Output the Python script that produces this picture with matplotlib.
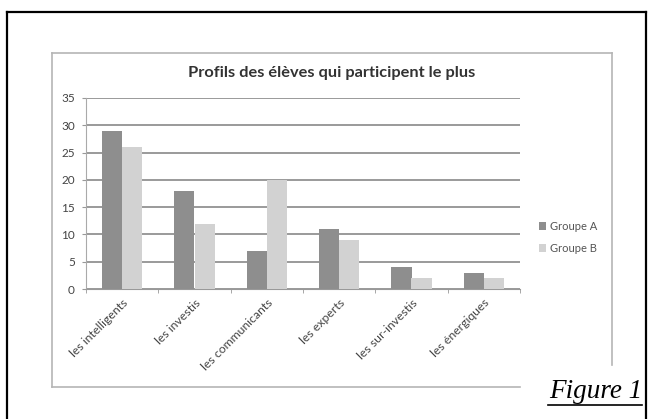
import matplotlib
matplotlib.use("Agg")
from matplotlib import pyplot as plt
from matplotlib.lines import Line2D
import numpy as np

# donnees du graphique
categories = ["les intelligents", "les investis", "les communicants",
              "les experts", "les sur-investis", "les énergiques"]
groupe_a = [29, 18, 7, 11, 4, 3]
groupe_b = [26, 12, 20, 9, 2, 2]
series_noms = ["Groupe A", "Groupe B"]
y_ticks = [0, 5, 10, 15, 20, 25, 30, 35]

W, H = 651, 419

def px(x, y):
    # pixels -> coordonnees figure
    return x / W, 1 - y / H

fig = plt.figure(figsize=(W / 100, H / 100), dpi=100)
fig.patch.set_facecolor("white")

# zone de trace
x0, x1, y0, y1 = 86, 520, 98, 289
ax = fig.add_axes([x0 / W, 1 - y1 / H, (x1 - x0) / W, (y1 - y0) / H])

x = np.arange(len(categories))
w = 0.28
ax.bar(x - w / 2, groupe_a, w, color="#8e8e8e", label=series_noms[0], zorder=3)
ax.bar(x + w / 2, groupe_b, w, color="#d2d2d2", label=series_noms[1], zorder=3)

ax.set_xlim(-0.5, len(categories) - 0.5)
ax.set_ylim(0, 35)
ax.set_yticks(y_ticks)
ax.set_yticklabels([str(t) for t in y_ticks], fontsize=8.5, color="#444444", family="Lato")
ax.yaxis.grid(True, color="#9a9a9a", lw=1.4, zorder=0)
ax.set_xticks(x)
ax.set_xticklabels(categories, rotation=45, ha="right", rotation_mode="anchor",
                   fontsize=8.8, color="#444444", family="Lato")
ax.set_xticks(np.arange(len(categories) + 1) - 0.5, minor=True)
ax.tick_params(axis="x", which="major", length=0, pad=6)
ax.tick_params(axis="x", which="minor", length=3, color="#999999")
ax.tick_params(axis="y", length=3, color="#999999", pad=5)
for s in ["top", "right"]:
    ax.spines[s].set_visible(False)
ax.spines["left"].set_color("#aaaaaa")
ax.spines["bottom"].set_color("#999999")
ax.set_facecolor("white")

fig.text(*px(332, 73), "Profils des élèves qui participent le plus",
         ha="center", va="center", fontsize=11.8, fontweight="bold",
         color="#333333", family="Lato")

ax.legend(loc="center left", bbox_to_anchor=(1.02, 0.27), frameon=False,
          handlelength=0.7, handleheight=0.7, handletextpad=0.3,
          labelspacing=1.0, prop={"family": "Lato", "size": 8},
          labelcolor="#555555")

# cadre du graphique
cadre = "#b5b5b5"
for (xa, ya), (xb, yb) in [((52, 53), (612, 53)), ((52, 53), (52, 387)),
                           ((52, 387), (520, 387)), ((612, 53), (612, 365))]:
    fig.add_artist(Line2D([xa / W, xb / W], [1 - ya / H, 1 - yb / H],
                          color=cadre, lw=1.2))

# bordure noire
for (xa, ya), (xb, yb) in [((7, 12), (646, 12)), ((7, 12), (7, 419)),
                           ((646, 12), (646, 419))]:
    fig.add_artist(Line2D([xa / W, xb / W], [1 - ya / H, 1 - yb / H],
                          color="black", lw=1.6))

fig.text(*px(642, 398), "Figure 1", ha="right", va="baseline", fontsize=19.5,
         style="italic", family="Liberation Serif", color="black")
fig.add_artist(Line2D([548 / W, 642 / W], [1 - 405 / H, 1 - 405 / H],
                      color="black", lw=1.2))

fig.savefig("out.png", dpi=100)
